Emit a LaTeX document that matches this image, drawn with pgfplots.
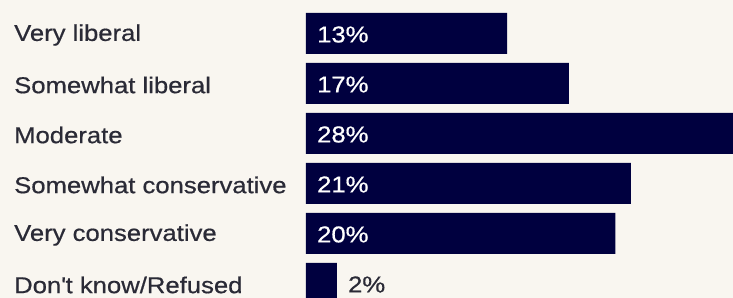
\documentclass[border=0pt]{standalone}
\usepackage{pgfplots}
\pgfplotsset{compat=1.18}
\usepackage{fontspec}
\setmainfont{Liberation Sans}[FakeStretch=1.12, FakeBold=0.6]
\definecolor{bg}{HTML}{F9F6F0}
\definecolor{navy}{HTML}{00003F}
\definecolor{txt}{HTML}{2A2A36}
\begin{document}
\begin{tikzpicture}[x=1bp,y=1bp]
\fill[bg] (0,0) rectangle (733,298);
\begin{axis}[
  at={(306bp,0bp)}, anchor=south west,
  scale only axis, width=427bp, height=298bp,
  xmin=0, xmax=27.6,
  ymin=-0.67, ymax=5.29, y dir=reverse,
  axis line style={draw=none},
  xtick=\empty,
  ytick={0,1,2,3,4,5},
  yticklabels={Very liberal,Somewhat liberal,Moderate,Somewhat conservative,Very conservative,Don\textquotesingle t know/Refused},
  major tick length=0pt,
  yticklabel style={anchor=west, inner sep=0pt, xshift=-292bp, yshift=-1.5bp, font=\fontsize{23}{26}\selectfont, text=txt},
  xbar, bar width=41bp, bar shift=0pt,
]
\addplot[fill=navy, draw=none] coordinates {(13,0) (17,1) (28.2,2) (21,3) (20,4) (2,5)};
\end{axis}
\begin{axis}[
  at={(306bp,0bp)}, anchor=south west,
  scale only axis, width=427bp, height=298bp,
  xmin=0, xmax=27.6,
  ymin=-0.67, ymax=5.29, y dir=reverse,
  hide axis, clip=false,
]
\addplot[draw=none, mark=none, nodes near coords, point meta=explicit symbolic,
  nodes near coords style={anchor=west, inner sep=0pt, xshift=11bp, yshift=-1bp, text=white, font=\fontsize{23}{26}\selectfont}]
  table[meta=lab] {
x y lab
0 0 13\%
0 1 17\%
0 2 28\%
0 3 21\%
0 4 20\%
};
\addplot[draw=none, mark=none, nodes near coords, point meta=explicit symbolic,
  nodes near coords style={anchor=west, inner sep=0pt, xshift=11bp, yshift=-1bp, text=txt, font=\fontsize{23}{26}\selectfont}]
  table[meta=lab] {
x y lab
2 5 2\%
};
\end{axis}
\end{tikzpicture}
\end{document}
